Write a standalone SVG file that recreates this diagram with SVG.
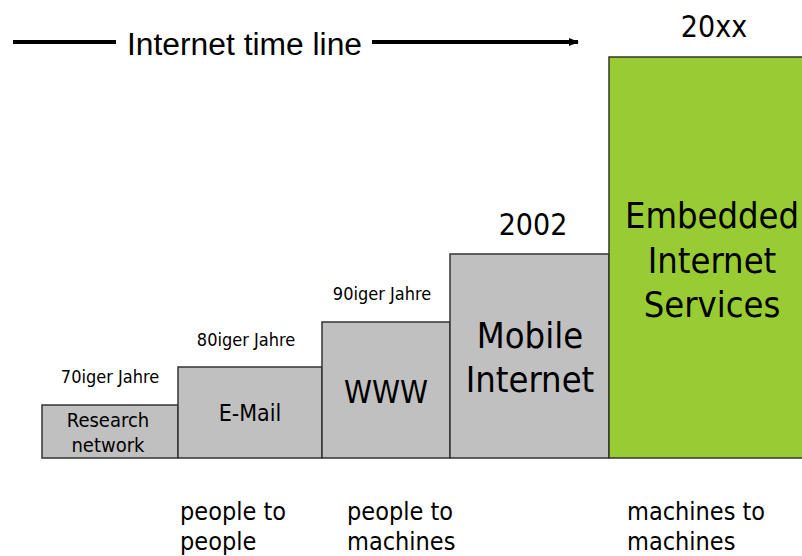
<svg xmlns="http://www.w3.org/2000/svg" width="802" height="556" viewBox="0 0 802 556">
<style>
.box{fill:#c0c0c0;stroke:#333;stroke-width:1.5}
.green{fill:#99cc33;stroke:#333;stroke-width:1.5}
.t{font-family:"DejaVu Sans Condensed","DejaVu Sans",sans-serif;fill:#000}
.n{font-family:"Liberation Sans",Arial,sans-serif;fill:#000}
</style>
<defs>
<marker id="ah" markerWidth="10" markerHeight="8" refX="9" refY="4" orient="auto" markerUnits="userSpaceOnUse">
<path d="M0,0 L10,4 L0,8 z" fill="#000"/>
</marker>
</defs>
<g id="connectors">
<line x1="13" y1="42" x2="116" y2="42" stroke="#000" stroke-width="4"/>
<line x1="372" y1="42" x2="578" y2="42" stroke="#000" stroke-width="4" marker-end="url(#ah)"/>
</g>
<text class="n" x="127" y="55" font-size="31" textLength="235" lengthAdjust="spacingAndGlyphs">Internet time line</text>
<g id="research">
<rect class="box" x="42" y="405" width="136" height="53"/>
<text class="t" x="108" y="427" font-size="20" text-anchor="middle">Research</text>
<text class="t" x="108" y="452" font-size="20" text-anchor="middle">network</text>
<text class="t" x="110" y="383" font-size="18" text-anchor="middle">70iger Jahre</text>
</g>
<g id="email">
<rect class="box" x="178" y="367" width="144" height="91"/>
<text class="t" x="250" y="421" font-size="23" text-anchor="middle">E-Mail</text>
<text class="t" x="246" y="346" font-size="18" text-anchor="middle">80iger Jahre</text>
</g>
<g id="www">
<rect class="box" x="322" y="322" width="128" height="136"/>
<text class="t" x="386" y="403" font-size="31.5" text-anchor="middle">WWW</text>
<text class="t" x="382" y="300" font-size="18" text-anchor="middle">90iger Jahre</text>
</g>
<g id="mobile">
<rect class="box" x="450" y="254" width="159" height="204"/>
<text class="t" x="530" y="348" font-size="36" text-anchor="middle">Mobile</text>
<text class="t" x="530" y="392" font-size="36" text-anchor="middle">Internet</text>
<text class="t" x="533" y="235" font-size="30" text-anchor="middle">2002</text>
</g>
<g id="embedded">
<rect class="green" x="609" y="57" width="195" height="401"/>
<text class="t" x="712" y="228" font-size="36" text-anchor="middle">Embedded</text>
<text class="t" x="712" y="273" font-size="36" text-anchor="middle">Internet</text>
<text class="t" x="712" y="317" font-size="36" text-anchor="middle">Services</text>
<text class="t" x="714" y="37" font-size="30" text-anchor="middle">20xx</text>
</g>
<g id="bottom">
<text class="t" x="180" y="520" font-size="25">people to</text>
<text class="t" x="180" y="550" font-size="25">people</text>
<text class="t" x="347" y="520" font-size="25">people to</text>
<text class="t" x="347" y="550" font-size="25">machines</text>
<text class="t" x="627" y="520" font-size="25">machines to</text>
<text class="t" x="627" y="550" font-size="25">machines</text>
</g>
</svg>
